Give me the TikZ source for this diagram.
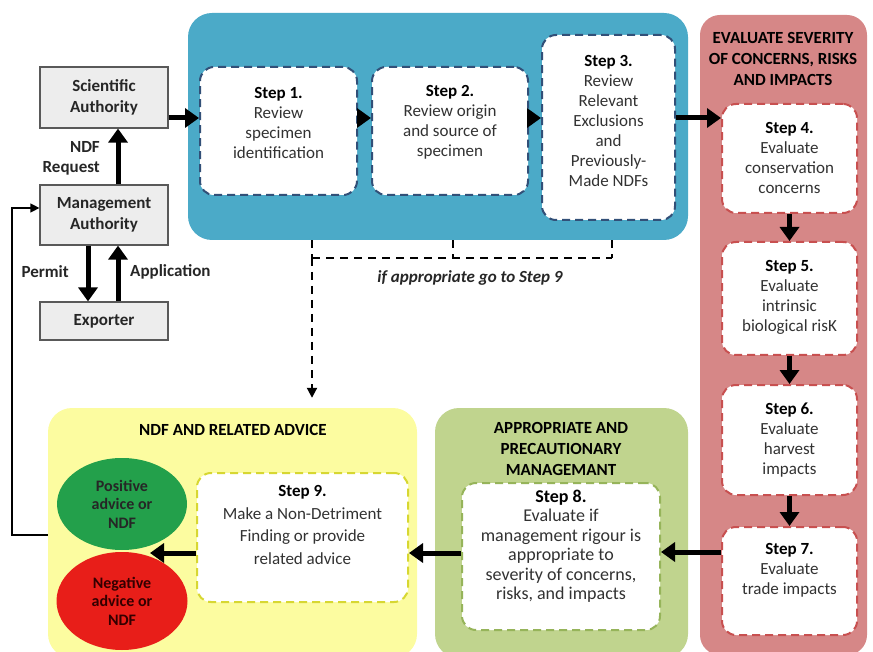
\documentclass[tikz,border=0pt]{standalone}
\usepackage{fontspec}
\setmainfont{Carlito}
\usetikzlibrary{arrows.meta,shapes.geometric}
\definecolor{panelblue}{RGB}{75,170,200}
\definecolor{panelred}{RGB}{214,135,135}
\definecolor{panelgreen}{RGB}{192,212,142}
\definecolor{panelyellow}{RGB}{252,252,160}
\definecolor{bordblue}{RGB}{50,80,120}
\definecolor{bordred}{RGB}{200,80,80}
\definecolor{bordgreen}{RGB}{150,180,90}
\definecolor{bordyellow}{RGB}{215,215,50}
\definecolor{boxgray}{RGB}{237,237,237}
\definecolor{textgray}{RGB}{50,50,50}
\definecolor{posgreen}{RGB}{35,160,75}
\definecolor{negred}{RGB}{232,30,25}
\tikzset{
  panel/.style={rectangle, rounded corners=24pt, draw=none, inner sep=0pt},
  stepbox/.style={rectangle, rounded corners=14pt, fill=white, line width=2pt,
    dash pattern=on 8pt off 5pt, inner sep=0pt},
  steptext/.style={align=center, text=textgray, inner sep=0pt,
    font=\fontsize{17}{20}\selectfont},
  titletext/.style={align=center, text=black, inner sep=0pt,
    font=\fontsize{17}{21}\selectfont\bfseries},
  graybox/.style={rectangle, fill=boxgray, draw=black!65, line width=1.2pt,
    align=center, inner sep=0pt, font=\fontsize{17}{21}\selectfont\bfseries,
    text=black!85},
  lbl/.style={inner sep=0pt, font=\fontsize{17}{20}\selectfont\bfseries, text=black!85},
  bigarrow/.style={line width=5pt, -{Triangle[length=14pt,width=19pt]}},
  dashline/.style={line width=2pt, dash pattern=on 8pt off 6pt},
  advice/.style={ellipse, inner sep=0pt, align=center,
    font=\fontsize{16}{18.5}\selectfont\bfseries},
  fbline/.style={line width=1.3pt}
}
\begin{document}
\begin{tikzpicture}[x=1pt,y=-1pt]
\useasboundingbox (0,0) rectangle (873,652);
% panels
\node[panel, fill=panelblue, minimum width=500, minimum height=227] (blue) at (438,126.5) {};
\node[panel, fill=panelred, rounded corners=20pt, minimum width=167, minimum height=640] (red) at (783.5,335) {};
\node[panel, fill=panelgreen, minimum width=253, minimum height=250] (green) at (561.5,533) {};
\node[panel, fill=panelyellow, minimum width=369, minimum height=250] (yel) at (232.5,533) {};
% left boxes
\node[graybox, minimum width=128, minimum height=61] (sa) at (104,97.5) {Scientific\\Authority};
\node[graybox, minimum width=128, minimum height=60] (ma) at (104,215) {Management\\Authority};
\node[graybox, minimum width=128, minimum height=38] (ex) at (104,321) {Exporter};
\node[lbl, align=right, anchor=east] (ndfreq) at (100,158) {NDF\\Request};
\node[lbl, anchor=east] (permit) at (69,272) {Permit};
\node[lbl, anchor=west] (appl) at (130,272) {Application};
% step boxes
\node[stepbox, draw=bordblue, minimum width=157, minimum height=128] (s1) at (278.5,131) {};
\node[stepbox, draw=bordblue, minimum width=156, minimum height=128] (s2) at (450,131) {};
\node[stepbox, draw=bordblue, minimum width=133, minimum height=185] (s3) at (608.5,127.5) {};
\node[stepbox, draw=bordred, minimum width=135, minimum height=109] (s4) at (789.5,158.5) {};
\node[stepbox, draw=bordred, minimum width=135, minimum height=113] (s5) at (789.5,298.5) {};
\node[stepbox, draw=bordred, minimum width=135, minimum height=110] (s6) at (789.5,440) {};
\node[stepbox, draw=bordred, minimum width=135, minimum height=108] (s7) at (789.5,581) {};
\node[stepbox, draw=bordgreen, minimum width=198, minimum height=147] (s8) at (561,556.5) {};
\node[stepbox, draw=bordyellow, minimum width=211, minimum height=129] (s9) at (302.5,537.5) {};
% step texts
\node[steptext] (t1) at (278.5,122.5) {\textbf{\color{black}Step 1.}\\Review\\specimen\\identification};
\node[steptext] (t2) at (450,122.5) {\textbf{\color{black}Step 2.}\\Review origin\\and source of\\specimen};
\node[steptext] (t3) at (608.5,121) {\textbf{\color{black}Step 3.}\\Review\\Relevant\\Exclusions\\and\\Previously-\\Made NDFs};
\node[steptext] (t4) at (789.5,157.5) {\textbf{\color{black}Step 4.}\\Evaluate\\conservation\\concerns};
\node[steptext] (t5) at (789.5,297.5) {\textbf{\color{black}Step 5.}\\Evaluate\\intrinsic\\biological risK};
\node[steptext] (t6) at (789.5,440) {\textbf{\color{black}Step 6.}\\Evaluate\\harvest\\impacts};
\node[steptext] (t7) at (789.5,570) {\textbf{\color{black}Step 7.}\\Evaluate\\trade impacts};
\node[steptext, font=\fontsize{18}{19.5}\selectfont] (t8) at (561,546) {\textbf{\color{black}Step 8.}\\Evaluate if\\management rigour is\\appropriate to\\severity of concerns,\\risks, and impacts};
\node[steptext, font=\fontsize{17}{22.5}\selectfont] (t9) at (302.5,525) {\textbf{\color{black}Step 9.}\\Make a Non-Detriment\\Finding or provide\\related advice};
% titles
\node[titletext] (redtitle) at (783,59) {EVALUATE SEVERITY\\OF CONCERNS, RISKS\\AND IMPACTS};
\node[titletext] (greentitle) at (561,449) {APPROPRIATE AND\\PRECAUTIONARY\\MANAGEMANT};
\node[titletext] (yeltitle) at (233,430) {NDF AND RELATED ADVICE};
% advice ellipses
\node[advice, fill=posgreen, text=black!85, minimum width=130, minimum height=92] (pos) at (122,504) {Positive\\advice or\\NDF};
\node[advice, fill=negred, text=black!80!red, minimum width=131, minimum height=98] (neg) at (122,601) {Negative\\advice or\\NDF};
\coordinate (adv) at (150,553);
% thick arrows
\draw[bigarrow] ([xshift=14pt]ma.north) -- ([xshift=14pt]sa.south);
\draw[bigarrow] ([xshift=-16pt]ma.south) -- ([xshift=-16pt]ex.north);
\draw[bigarrow] ([xshift=14pt]ex.north) -- ([xshift=14pt]ma.south);
\draw[bigarrow] ([yshift=-20.5pt]sa.east) -- ([yshift=13pt]s1.west);
\draw[bigarrow] ([yshift=13pt]s1.east) -- ([yshift=13pt]s2.west);
\draw[bigarrow] ([yshift=13pt]s2.east) -- ([yshift=9.5pt]s3.west);
\draw[bigarrow] ([yshift=9.5pt]s3.east) -- ([yshift=40.5pt]s4.west);
\draw[bigarrow] (s4.south) -- (s5.north);
\draw[bigarrow] (s5.south) -- (s6.north);
\draw[bigarrow] (s6.south) -- (s7.north);
\draw[bigarrow] ([yshift=29pt]s7.west) -- ([yshift=4.5pt]s8.east);
\draw[bigarrow] ([yshift=3.5pt]s8.west) -- ([yshift=-15.5pt]s9.east);
\draw[bigarrow] ([yshift=-15.5pt]s9.west) -- (adv);
% dashed branch to step 9
\coordinate (d1) at (312,258);
\coordinate (d2) at (453,258);
\coordinate (d3) at (612,258);
\draw[dashline] (blue.south -| d1) -- (d1);
\draw[dashline] (blue.south -| d2) -- (d2);
\draw[dashline] (blue.south -| d3) -- (d3);
\draw[dashline] (d1) -- (d3);
\draw[dashline, -{Triangle[length=10pt,width=10pt]}, shorten >=10pt] (d1) -- (yel.north -| d1);
\node[inner sep=0pt, font=\fontsize{17}{20}\selectfont\bfseries\itshape, text=black!85] (goto9) at (470,278) {if appropriate go to Step 9};
% feedback line
\coordinate (fbA) at (12,535);
\coordinate (fbB) at (12,208);
\draw[fbline, -{Triangle[length=9pt,width=9pt]}] (yel.west |- fbA) -- (fbA) -- (fbB) -- (fbB -| ma.west);
\end{tikzpicture}
\end{document}
